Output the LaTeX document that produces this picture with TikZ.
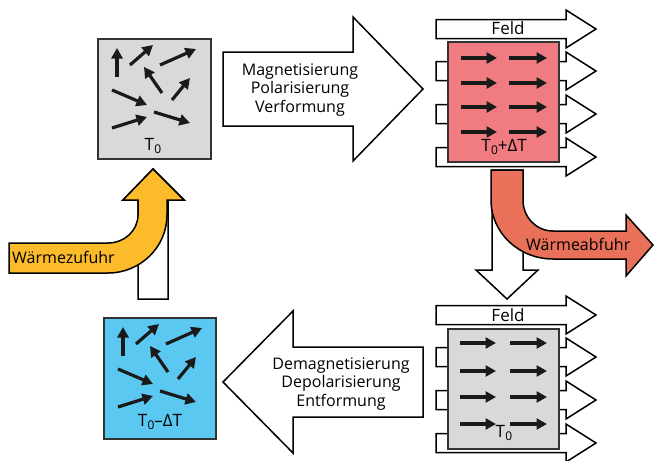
\documentclass[tikz,border=0pt]{standalone}
\usepackage{fontspec}
\setmainfont{Open Sans}
\usetikzlibrary{arrows.meta}
\definecolor{boxgray}{HTML}{D9D9D9}
\definecolor{boxred}{HTML}{F07C81}
\definecolor{boxblue}{HTML}{5AC8F0}
\definecolor{heatyellow}{HTML}{FCBB2A}
\definecolor{heatorange}{HTML}{E9715A}
\definecolor{framegray}{HTML}{333333}
\definecolor{arrblack}{HTML}{1A1A1A}
\newcommand{\Tz}{T\kern0.3pt\raisebox{-0.4ex}{\fontsize{12}{13}\selectfont 0}}
\begin{document}
\begin{tikzpicture}[x=1pt,y=-1pt,
  blk/.style={draw=black,line width=1.5pt,line join=miter,fill=white},
  heat/.style={draw=black,line width=1.5pt,line join=miter},
  mbox/.style={draw=framegray,line width=2.2pt,inner sep=0pt},
  sarr/.style={line width=3.2pt,draw=arrblack,-{Triangle[length=10.5pt,width=11pt]}},
  lbl/.style={font=\fontsize{16}{18.5}\selectfont,inner sep=0pt,text=black},
  tlbl/.style={font=\fontsize{17}{19}\selectfont,inner sep=0pt,text=black},
]
\useasboundingbox (0,0) rectangle (654,461);

% field arrows (behind boxes)
\foreach \c in {29,71,114,157,315,357,400,443}{
  \draw[blk] (436,\c-9.5) -- (566,\c-9.5) -- (566,\c-19) -- (596,\c) -- (566,\c+19) -- (566,\c+9.5) -- (436,\c+9.5) -- cycle;
}

% big process arrows
\draw[blk] (223,52) -- (353,52) -- (353,17) -- (423,89) -- (353,161) -- (353,126) -- (223,126) -- cycle;
\draw[blk] (423,347) -- (293,347) -- (293,311) -- (223,382) -- (293,453) -- (293,417) -- (423,417) -- cycle;

% white up arrow + Waermezufuhr
\draw[blk] (138,299) -- (138,200) -- (123,200) -- (153,169) -- (184,200) -- (168,200) -- (168,299) -- cycle;
\draw[heat,fill=heatyellow] (9,243) -- (108,243) .. controls (124.5,243) and (138,230.5) .. (138,215)
  -- (138,200) -- (123,200) -- (153,169) -- (184,200) -- (167,200) -- (167,215)
  .. controls (167,247) and (140.5,273) .. (108,273) -- (9,273) -- cycle;

% white down arrow + Waermeabfuhr
\draw[blk] (492,170) -- (523,170) -- (523,270) -- (538,270) -- (507,299) -- (476,270) -- (492,270) -- cycle;
\draw[heat,fill=heatorange] (491,170) -- (523,170) -- (523,200) .. controls (523,217) and (536,231) .. (553,231)
  -- (626,231) -- (626,215) -- (653,245) -- (626,276) -- (626,259) -- (553,259)
  .. controls (519,259) and (491,233) .. (491,200) -- cycle;

% boxes
\node[mbox,fill=boxgray,minimum width=113pt,minimum height=120pt] (g1) at (154.5,99) {};
\node[mbox,fill=boxblue,minimum width=112pt,minimum height=121pt] (b1) at (160,378.5) {};
\node[mbox,fill=boxred,minimum width=111pt,minimum height=120pt] (r1) at (503.5,102) {};
\node[mbox,fill=boxgray,minimum width=111pt,minimum height=120pt] (g2) at (503.5,389) {};

% random arrows in gray and blue boxes
\foreach \dx/\dy in {0/0,6/279}{
  \draw[sarr] (117+\dx,77+\dy) -- (117+\dx,48+\dy);
  \draw[sarr] (130+\dx,65+\dy) -- (153+\dx,45+\dy);
  \draw[sarr] (160+\dx,65+\dy) -- (196+\dx,49+\dy);
  \draw[sarr] (162+\dx,93+\dy) -- (144+\dx,67+\dy);
  \draw[sarr] (172+\dx,100+\dy) -- (190+\dx,78+\dy);
  \draw[sarr] (112+\dx,90+\dy) -- (147+\dx,105+\dy);
  \draw[sarr] (112+\dx,128+\dy) -- (147+\dx,117+\dy);
  \draw[sarr] (154+\dx,112+\dy) -- (190+\dx,123+\dy);
}
% aligned arrows
\foreach \r in {58,83,107,132}{
  \draw[sarr] (461,\r) -- (497,\r);
  \draw[sarr] (509,\r) -- (547,\r);
}
\foreach \r in {343,371,397,424}{
  \draw[sarr] (460,\r) -- (496,\r);
  \draw[sarr] (510,\r) -- (547,\r);
}

% labels
\node[tlbl] (tg1) at (153,146) {\Tz};
\node[tlbl] (tb1) at (160,422) {\Tz–ΔT};
\node[tlbl] (tr1) at (504,147) {\Tz+ΔT};
\node[tlbl] (tg2) at (504,433) {\Tz};
\node[tlbl] (f1) at (508,28) {Feld};
\node[tlbl] (f2) at (508,315) {Feld};
\node[lbl,align=center] (mag) at (300,90) {Magnetisierung\\Polarisierung\\Verformung};
\node[lbl,align=center] (demag) at (341,384) {Demagnetisierung\\Depolarisierung\\Entformung};
\node[lbl,anchor=base west] (wz) at (12,263) {Wärmezufuhr};
\node[lbl,anchor=base west] (wa) at (526,250) {Wärmeabfuhr};
\end{tikzpicture}
\end{document}
